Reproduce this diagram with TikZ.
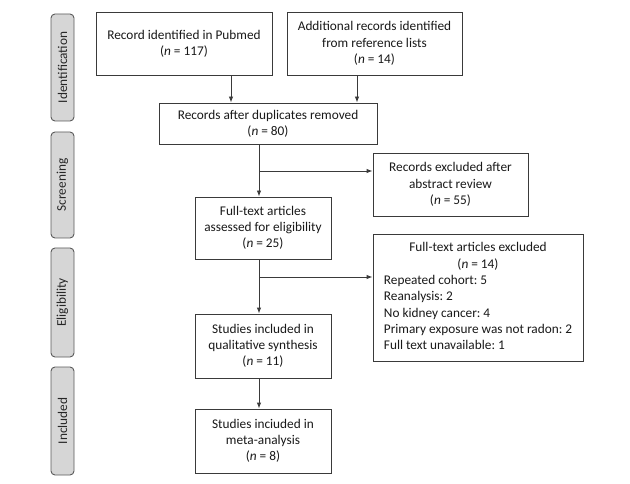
\documentclass[tikz,border=0pt]{standalone}
\usepackage{fontspec}
\setmainfont{Carlito}
\frenchspacing
\usetikzlibrary{arrows.meta}
\definecolor{ln}{HTML}{3A3A3A}
\definecolor{sidefill}{HTML}{D6D6D6}
\definecolor{sidedraw}{HTML}{5A5A5A}
\tikzset{
  box/.style={draw=ln, line width=0.9pt, fill=white, align=center, inner sep=2pt,
    font=\fontsize{13.3}{16.3}\selectfont, text=black!90},
  side/.style={draw=sidedraw, line width=0.9pt, fill=sidefill, rounded corners=4pt,
    minimum height=23pt, rotate=90, font=\fontsize{13.3}{15}\selectfont, text=black!85},
  arr/.style={draw=ln, line width=0.9pt, -{Latex[length=6pt,width=4.5pt]}},
  ln/.style={draw=ln, line width=0.9pt}
}
\begin{document}
\begin{tikzpicture}[x=1pt,y=-1pt]
\useasboundingbox (0,0) rectangle (630,484);
% side labels
\node[side, minimum width=107pt] (sid) at (62.5,67.5) {Identification};
\node[side, minimum width=106pt] (sscr) at (62.5,185) {Screening};
\node[side, minimum width=109pt] (selig) at (62.5,302.5) {Eligibility};
\node[side, minimum width=108pt] (sinc) at (62.5,421) {Included};
% boxes
\node[box, minimum width=176pt, minimum height=63pt] (pub) at (184,43.5)
  {Record identified in Pubmed\\(\textit{n} = 117)};
\node[box, minimum width=175pt, minimum height=63pt] (add) at (374.5,43.5)
  {Additional records identified\\from reference lists\\(\textit{n} = 14)};
\node[box, minimum width=218pt, minimum height=41pt] (dup) at (268,123.5)
  {Records after duplicates removed\\(\textit{n} = 80)};
\node[box, minimum width=155pt, minimum height=63pt] (ex1) at (450.5,184.5)
  {Records excluded after\\abstract review\\(\textit{n} = 55)};
\node[box, minimum width=136pt, minimum height=62pt] (full) at (263,228)
  {Full-text articles\\assessed for eligibility\\(\textit{n} = 25)};
\node[box, minimum width=210pt, minimum height=127pt] (ex2) at (478,297.5)
  {\begin{tabular}{@{}c@{}}
   Full-text articles excluded\\
   (\textit{n} = 14)\\
   \multicolumn{1}{@{}l@{}}{Repeated cohort: 5}\\
   \multicolumn{1}{@{}l@{}}{Reanalysis: 2}\\
   \multicolumn{1}{@{}l@{}}{No kidney cancer: 4}\\
   \multicolumn{1}{@{}l@{}}{Primary exposure was not radon: 2}\\
   \multicolumn{1}{@{}l@{}}{Full text unavailable: 1}
   \end{tabular}};
\node[box, minimum width=136pt, minimum height=64pt] (qual) at (263,346)
  {Studies included in\\qualitative synthesis\\(\textit{n} = 11)};
\node[box, minimum width=136pt, minimum height=64pt] (meta) at (263,441)
  {Studies inciuded in\\meta-analysis\\(\textit{n} = 8)};
% connectors
\coordinate (b1) at (259,171);
\coordinate (b2) at (259,277);
\draw[arr] (pub.south -| 231,0) -- (dup.north -| 231,0);
\draw[arr] (add.south -| 357,0) -- (dup.north -| 357,0);
\draw[arr] (dup.south -| b1) -- (full.north -| b1);
\draw[arr] (b1) -- (b1 -| ex1.west);
\draw[arr] (full.south -| b2) -- (qual.north -| b2);
\draw[arr] (b2) -- (b2 -| ex2.west);
\draw[arr] (qual.south -| b2) -- (meta.north -| b2);
\end{tikzpicture}
\end{document}
